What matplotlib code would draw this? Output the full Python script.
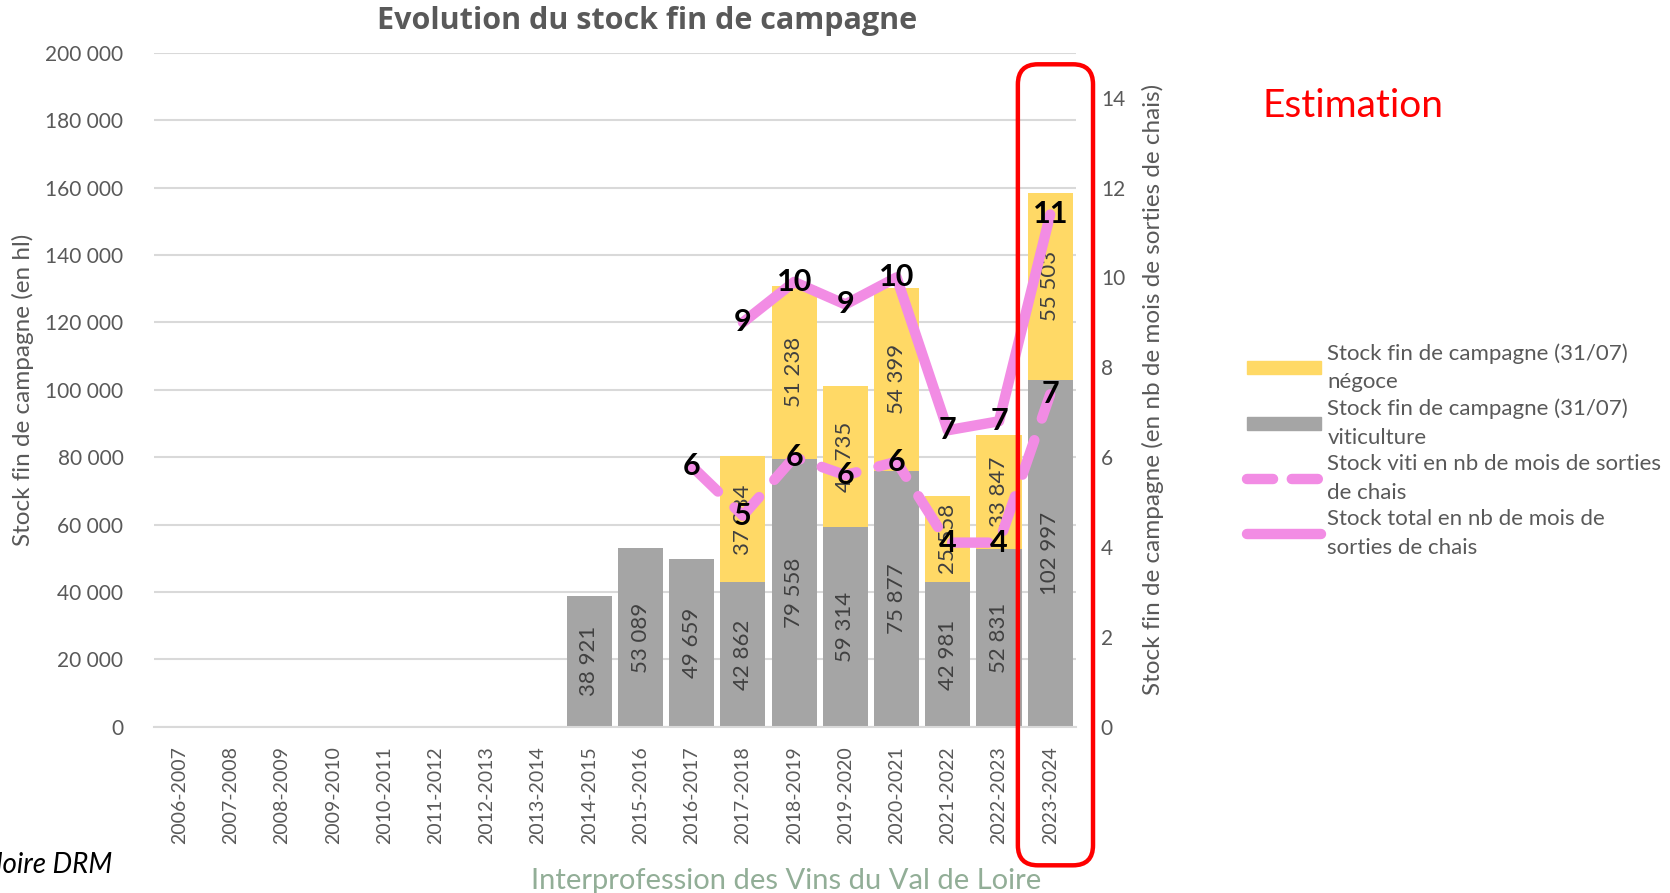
import numpy as np
import matplotlib.pyplot as plt
from matplotlib.patches import Patch, FancyBboxPatch
from matplotlib.lines import Line2D

plt.rcParams['font.family'] = ['Lato', 'DejaVu Sans']

campagnes = ['2006-2007', '2007-2008', '2008-2009', '2009-2010', '2010-2011',
             '2011-2012', '2012-2013', '2013-2014', '2014-2015', '2015-2016',
             '2016-2017', '2017-2018', '2018-2019', '2019-2020', '2020-2021',
             '2021-2022', '2022-2023', '2023-2024']

# stocks au 31/07 en hl (0 = pas de donnée)
stock_viti = [0, 0, 0, 0, 0, 0, 0, 0, 38921, 53089, 49659, 42862, 79558,
              59314, 75877, 42981, 52831, 102997]
stock_nego = [0, 0, 0, 0, 0, 0, 0, 0, 0, 0, 0, 37384, 51238, 41735, 54399,
              25558, 33847, 55503]

# stock en nb de mois de sorties de chais
mois_viti_camp = campagnes[10:]
mois_viti = [5.8, 4.7, 6.0, 5.6, 5.9, 4.1, 4.1, 7.4]
mois_total_camp = campagnes[11:]
mois_total = [9.0, 9.9, 9.4, 10.0, 6.6, 6.8, 11.4]

JAUNE = '#FFD966'
GRIS = '#A5A5A5'
ROSE = '#F28CE4'
TXT = '#595959'

fig = plt.figure(figsize=(16.7, 8.93), dpi=100)
ax = fig.add_axes([0.0922, 0.186, 0.552, 0.755])
ax2 = ax.twinx()

x = np.arange(len(campagnes))
viti = np.array(stock_viti)
nego = np.array(stock_nego)
ax.bar(x, viti, width=0.88, color=GRIS, zorder=2)
ax.bar(x, nego, width=0.88, bottom=viti, color=JAUNE, zorder=2)

def fmt(v):
    return f"{v:,}".replace(",", " ")

for xi, v, n in zip(x, viti, nego):
    if v > 0:
        ax.text(xi, v / 2, fmt(v), rotation=90, ha='center', va='center',
                fontsize=16, color='#404040', zorder=3)
    if n > 0:
        ax.text(xi, v + n / 2, fmt(n), rotation=90, ha='center', va='center',
                fontsize=16, color='#404040', zorder=3)

ax.set_xlim(-0.5, len(campagnes) - 0.5)
ax.set_ylim(0, 200000)
ax.set_yticks(np.arange(0, 200001, 20000))
ax.set_yticklabels([fmt(t) for t in range(0, 200001, 20000)])
ax.yaxis.grid(True, color='#D9D9D9', lw=1.5, zorder=0)
ax.set_axisbelow(True)
ax.set_xticks(x)
ax.set_xticklabels(campagnes, rotation=90, fontsize=14, color=TXT)
ax.tick_params(axis='y', labelsize=15, labelcolor=TXT, length=0, pad=22)
ax.tick_params(axis='x', length=0, pad=14)
for s in ['top', 'right', 'left']:
    ax.spines[s].set_visible(False)
ax.spines['bottom'].set_color('#D9D9D9')
ax.spines['bottom'].set_linewidth(1.5)
ax.set_ylabel('Stock fin de campagne (en hl)', fontsize=17.5, color=TXT, labelpad=8)

# courbes en mois de sorties de chais
xv = [campagnes.index(c) for c in mois_viti_camp]
xt = [campagnes.index(c) for c in mois_total_camp]
ax2.plot(xv, mois_viti, color=ROSE, lw=7.5, ls=(0, (3.5, 2.2)),
         dash_capstyle='round', solid_capstyle='round', zorder=4)
ax2.plot(xt, mois_total, color=ROSE, lw=7.5, solid_capstyle='round',
         solid_joinstyle='round', zorder=4)
for xi, v in zip(xv, mois_viti):
    ax2.text(xi, v, f"{round(v)}", ha='center', va='center', fontsize=22,
             fontweight='bold', color='black', zorder=5)
for xi, v in zip(xt, mois_total):
    ax2.text(xi, v, f"{round(v)}", ha='center', va='center', fontsize=22,
             fontweight='bold', color='black', zorder=5)

ax2.set_ylim(0, 15)
ax2.set_yticks(np.arange(0, 15, 2))
ax2.tick_params(axis='y', labelsize=15, labelcolor=TXT, length=0, pad=18)
for s in ax2.spines.values():
    s.set_visible(False)
ax2.set_ylabel('Stock fin de campagne (en nb de mois de sorties de chais)',
               fontsize=17.5, color=TXT, labelpad=12)

fig.text(0.3874, 0.976, 'Evolution du stock fin de campagne', ha='center',
         va='center', fontsize=22, fontweight='bold', color=TXT,
         family=['Open Sans', 'DejaVu Sans'])

handles = [Patch(color=JAUNE), Patch(color=GRIS),
           Line2D([], [], color=ROSE, lw=7.5, ls=(0, (2.5, 1.8)), dash_capstyle='round'),
           Line2D([], [], color=ROSE, lw=7.5, solid_capstyle='round')]
labels = ['Stock fin de campagne (31/07)\nnégoce',
          'Stock fin de campagne (31/07)\nviticulture',
          'Stock viti en nb de mois de sorties\nde chais',
          'Stock total en nb de mois de\nsorties de chais']
leg = fig.legend(handles, labels, loc='upper left', bbox_to_anchor=(0.747, 0.616),
                 frameon=False, fontsize=16, labelcolor=TXT, handlelength=3.3,
                 handleheight=0.5, handletextpad=0.3, labelspacing=0.28,
                 borderpad=0, borderaxespad=0)
for t in leg.get_texts():
    t.set_linespacing(1.55)

fig.text(0.756, 0.881, 'Estimation', fontsize=28, color='#FF0000', va='center')

# cadre de la campagne estimée
box = FancyBboxPatch((0.6095, 0.031), 0.045, 0.897,
                     boxstyle='round,pad=0,rounding_size=0.012',
                     transform=fig.transFigure, fill=False,
                     edgecolor='#FF0000', lw=3.2, mutation_aspect=1.87)
fig.add_artist(box)

fig.text(0.067, 0.031, 'Source : Interloire DRM', ha='right', va='center',
         fontsize=20, style='italic', color='black')
fig.text(0.471, 0.005, 'Interprofession des Vins du Val de Loire', ha='center',
         va='baseline', fontsize=21, color='#92AE97')

fig.savefig('out.png', dpi=100)
